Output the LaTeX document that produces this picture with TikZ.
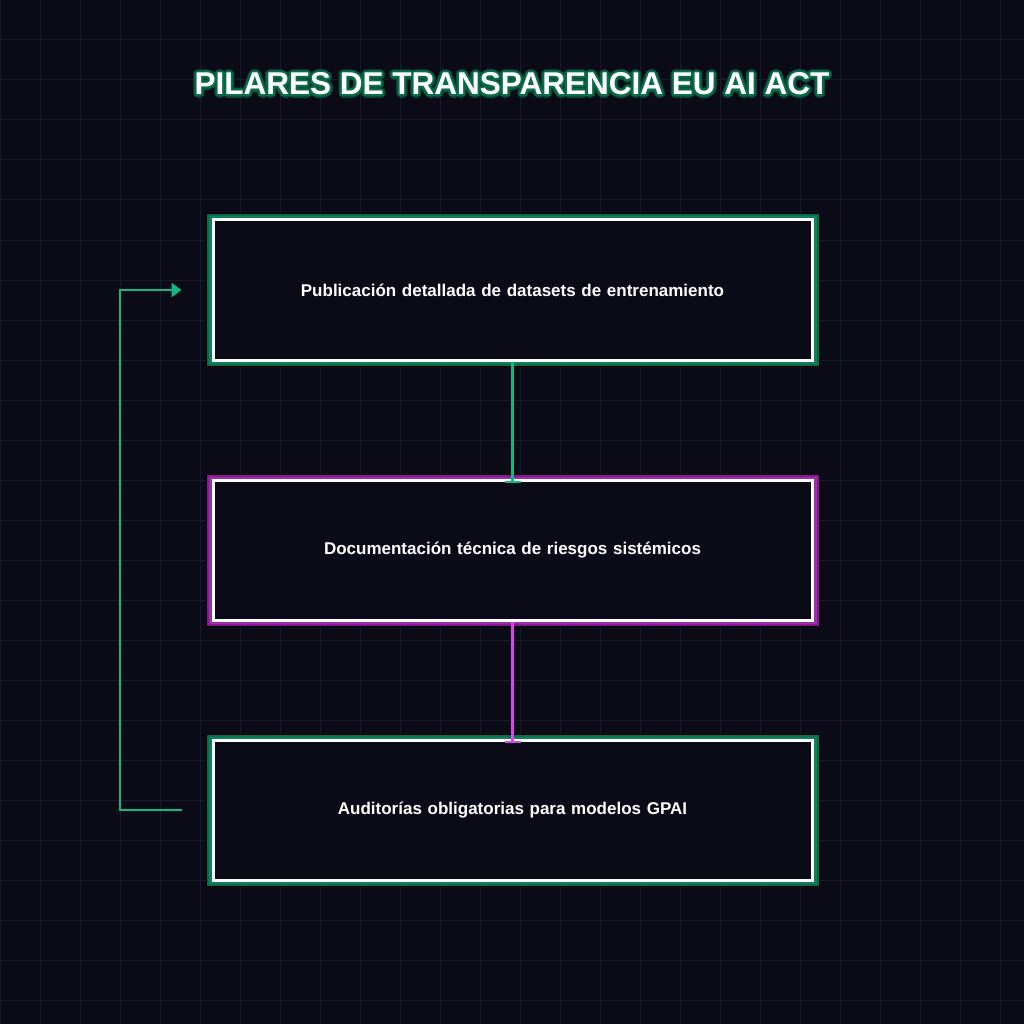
\documentclass[tikz,border=0pt]{standalone}
\usepackage{fontspec}
\setmainfont{Liberation Sans}
\usetikzlibrary{arrows.meta,calc}
\definecolor{bg}{HTML}{0B0B18}
\definecolor{gridc}{HTML}{1A1A2E}
\definecolor{grn}{HTML}{10B981}
\definecolor{dgrn}{HTML}{0B6B4A}
\definecolor{mag}{HTML}{D946EF}
\definecolor{dmag}{HTML}{86198F}
\tikzset{
  box/.style={draw=white,line width=3pt,fill=bg,minimum width=599pt,minimum height=140pt,align=center,text width=520pt,font=\bfseries\fontsize{17}{26}\selectfont,text=white},
  conn/.style={line width=2.5pt},
  ttl/.style={font=\bfseries\fontsize{31.5}{36}\selectfont}
}
\newcommand{\ttltext}{PILARES DE TRANSPARENCIA EU AI ACT}
\begin{document}
\begin{tikzpicture}[x=1pt,y=-1pt]
\fill[bg] (0,0) rectangle (1024,1024);
\useasboundingbox (0,0) rectangle (1024,1024);
\foreach \i in {0,40,...,1000}{\draw[gridc,line width=1pt] (\i,0)--(\i,1024); \draw[gridc,line width=1pt] (0,\i)--(1024,\i);}
\foreach \a in {0,30,...,330}{
  \node[ttl,text=dgrn!70!black] at ($(512,84)+(\a:3.2)$) {\ttltext};}
\foreach \a in {0,45,...,315}{
  \node[ttl,text=dgrn] at ($(512,84)+(\a:2)$) {\ttltext};}
\node[ttl,text=white] (title) at (512,84) {\ttltext};
\foreach \y/\c/\d in {290/grn/dgrn,550/mag/dmag,810/grn/dgrn}{
  \draw[black,line width=9pt] (210,\y-72) rectangle (815,\y+72);
  \draw[\d,line width=7pt] (210,\y-72) rectangle (815,\y+72);
  \draw[\c!70!black,line width=3pt] (210,\y-72) rectangle (815,\y+72);
}
\node[box] (b1) at (512.5,290) {Publicación detallada de datasets de entrenamiento};
\node[box] (b2) at (512.5,550) {Documentación técnica de riesgos sistémicos};
\node[box] (b3) at (512.5,810) {Auditorías obligatorias para modelos GPAI};
\draw[conn,grn,-{Bar[width=16pt,line width=2pt]}] (b1.south) -- ([yshift=-4pt]b2.north);
\draw[conn,mag,-{Bar[width=16pt,line width=2pt]}] (b2.south) -- ([yshift=-4pt]b3.north);
\coordinate (s) at ([xshift=-30pt]b3.west);
\coordinate (e) at ([xshift=-30pt]b1.west);
\draw[conn,grn,-{Triangle[length=10pt,width=14pt]}] (s) -- (120,810) -- (120,290) -- (e);
\end{tikzpicture}
\end{document}
